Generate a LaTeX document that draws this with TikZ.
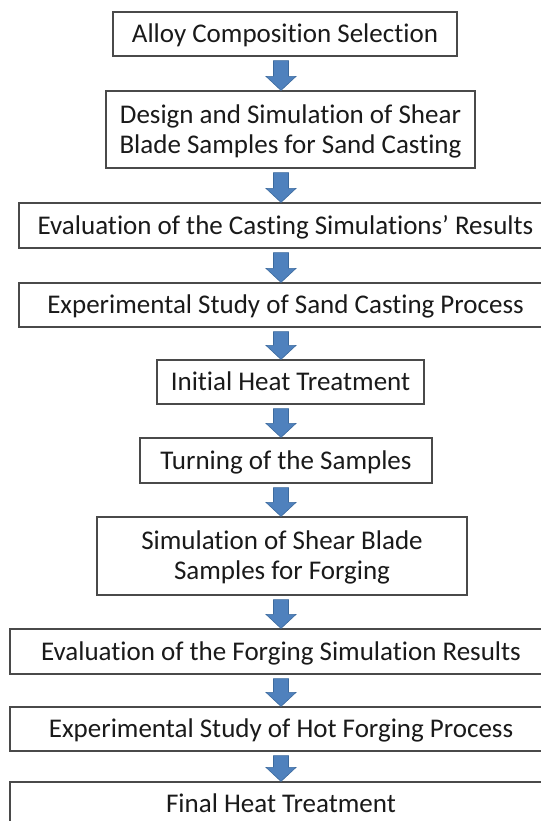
\documentclass[tikz,border=0pt]{standalone}
\usepackage{fontspec}
\setmainfont[Ligatures={NoCommon,TeX}]{Carlito}
\usetikzlibrary{calc}
\definecolor{arrfill}{HTML}{4F81BD}
\definecolor{arrline}{HTML}{3C6A9E}
\definecolor{boxline}{HTML}{4A4A4A}
\definecolor{txtcol}{HTML}{1A1A1A}
\newcommand{\bline}[1]{\vphantom{E}\smash{#1}}
\newcommand{\blockarr}[2]{%
  \path[arr] let \p1=(#1.south), \p2=(#2.north), \p3=(ax) in
    (\x3-7.5bp,\y1-4bp) -- (\x3+7.5bp,\y1-4bp) -- (\x3+7.5bp,\y2+14bp) --
    (\x3+15bp,\y2+14bp) -- (\x3,\y2) -- (\x3-15bp,\y2+14bp) --
    (\x3-7.5bp,\y2+14bp) -- cycle;}
\begin{document}
\begin{tikzpicture}[x=1bp,y=-1bp,
  stepbox/.style={draw=boxline, line width=1.2bp, fill=white, inner sep=0pt,
    align=center, text=txtcol, font=\fontsize{27bp}{30bp}\selectfont},
  arr/.style={fill=arrfill, draw=arrline, line width=0.6bp, line join=miter}]
\useasboundingbox (0,0) rectangle (541,821);
\fill[white] (0,0) rectangle (541,821);
\clip (0,0) rectangle (541,821);
\coordinate (ax) at (281,0);
\node[stepbox, minimum width=344bp, minimum height=44bp] (b1) at (285,34)
  {\bline{Alloy Composition Selection}};
\node[stepbox, minimum width=369bp, minimum height=77bp] (b2) at (290.5,129.5)
  {\bline{Design and Simulation of Shear}\\\bline{Blade Samples for Sand Casting}};
\node[stepbox, minimum width=533bp, minimum height=45bp] (b3) at (285.5,225.5)
  {\bline{Evaluation of the Casting Simulations’ Results}};
\node[stepbox, minimum width=533bp, minimum height=44bp] (b4) at (285.5,305)
  {\bline{Experimental Study of Sand Casting Process}};
\node[stepbox, minimum width=267bp, minimum height=44bp] (b5) at (290.5,382)
  {\bline{Initial Heat Treatment}};
\node[stepbox, minimum width=292bp, minimum height=45bp] (b6) at (286,460.5)
  {\bline{Turning of the Samples}};
\node[stepbox, minimum width=370bp, minimum height=78bp] (b7) at (282,556)
  {\bline{Simulation of Shear Blade}\\\bline{Samples for Forging}};
\node[stepbox, minimum width=542bp, minimum height=45bp] (b8) at (281,651.5)
  {\bline{Evaluation of the Forging Simulation Results}};
\node[stepbox, minimum width=542bp, minimum height=44bp] (b9) at (281,729)
  {\bline{Experimental Study of Hot Forging Process}};
\node[stepbox, minimum width=542bp, minimum height=44bp] (b10) at (281,804)
  {\bline{Final Heat Treatment}};
\blockarr{b1}{b2}
\blockarr{b2}{b3}
\blockarr{b3}{b4}
\blockarr{b4}{b5}
\blockarr{b5}{b6}
\blockarr{b6}{b7}
\blockarr{b7}{b8}
\blockarr{b8}{b9}
\blockarr{b9}{b10}
\end{tikzpicture}
\end{document}
